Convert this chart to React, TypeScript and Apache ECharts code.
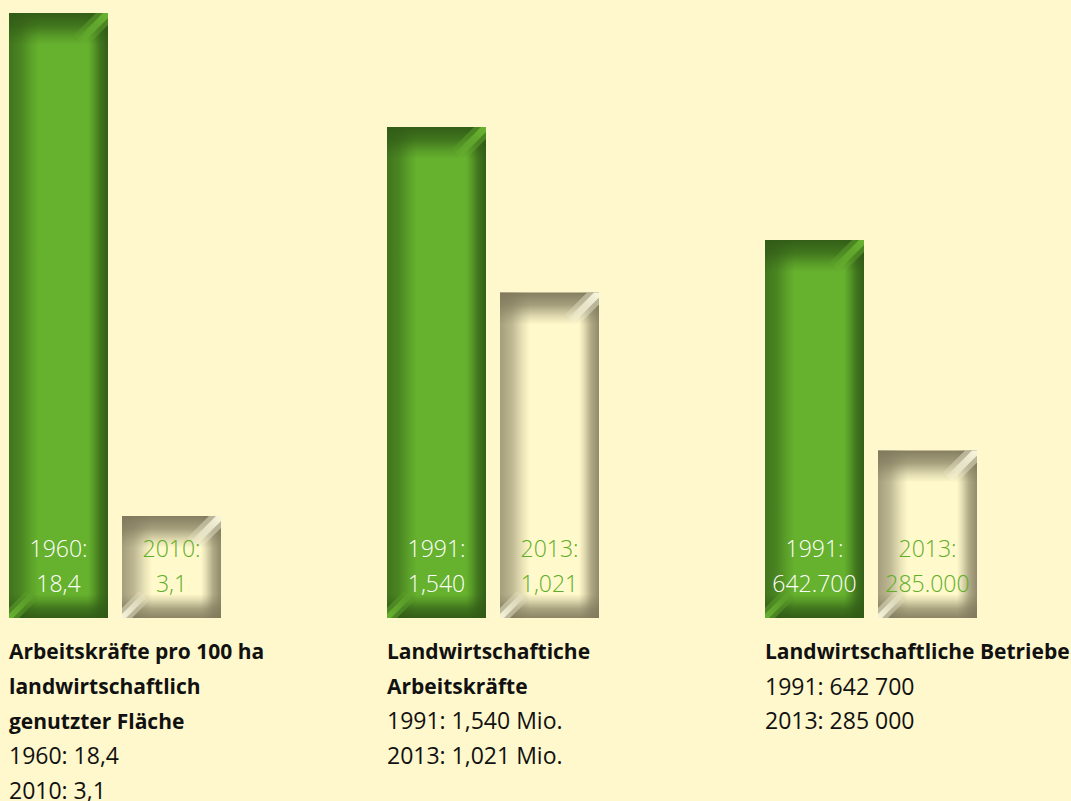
import React, { useEffect, useRef } from "react";
import * as echarts from "echarts";

// ---- Data ----
const group1Years = ["1960", "2010"];
const group1Values = [18.4, 3.1];
const group1Labels = ["18,4", "3,1"];

const group2Years = ["1991", "2013"];
const group2Values = [1.54, 1.021];
const group2Labels = ["1,540", "1,021"];

const group3Years = ["1991", "2013"];
const group3Values = [642700, 285000];
const group3Labels = ["642.700", "285.000"];

const group1Title = ["Arbeitskräfte pro 100 ha", "landwirtschaftlich", "genutzter Fläche"];
const group1Details = ["1960: 18,4", "2010: 3,1"];
const group2Title = ["Landwirtschaftiche", "Arbeitskräfte"];
const group2Details = ["1991: 1,540 Mio.", "2013: 1,021 Mio."];
const group3Title = ["Landwirtschaftliche Betriebe"];
const group3Details = ["1991: 642 700", "2013: 285 000"];

const groups = [
  { years: group1Years, values: group1Values, labels: group1Labels, title: group1Title, details: group1Details },
  { years: group2Years, values: group2Values, labels: group2Labels, title: group2Title, details: group2Details },
  { years: group3Years, values: group3Values, labels: group3Labels, title: group3Title, details: group3Details },
];

// ---- Layout / style ----
const W = 1071;
const H = 801;
const BG = "#FFF8CC";
const GRID_LEFTS = [2, 380, 758];
const GRID_TOPS = [13, 127, 240];
const GRID_WIDTH = 226;
const BASE_Y = 618;
const BAR_RATIO = 99 / 113;
const FONT = "'Open Sans', 'Noto Sans', sans-serif";

const GREEN = {
  center: "#66B22E",
  dark: "48,90,22",
  top: 0.95,
  left: 0.7,
  right: 0.95,
  bottom: 0.95,
  glow: "108,184,50",
  text: "#FFFFFF",
};
const CREAM = {
  center: "#FFF9CB",
  dark: "126,119,90",
  top: 0.95,
  left: 0.7,
  right: 0.85,
  bottom: 0.9,
  glow: "255,253,228",
  text: "#5EAE28",
};

function fade(x: number, y: number, x2: number, y2: number, rgb: string, a: number) {
  return new echarts.graphic.LinearGradient(x, y, x2, y2, [
    { offset: 0, color: `rgba(${rgb},${a})` },
    { offset: 0.4, color: `rgba(${rgb},${a * 0.72})` },
    { offset: 0.75, color: `rgba(${rgb},${a * 0.25})` },
    { offset: 1, color: `rgba(${rgb},0)` },
  ]);
}

function glowFill(x: number, y: number, x2: number, y2: number, rgb: string, a: number) {
  return new echarts.graphic.LinearGradient(x, y, x2, y2, [
    { offset: 0, color: `rgba(${rgb},${a})` },
    { offset: 0.55, color: `rgba(${rgb},${a * 0.6})` },
    { offset: 1, color: `rgba(${rgb},0)` },
  ]);
}

function makeRenderItem(groupIdx: number) {
  const g = groups[groupIdx];
  return (params: any, api: any) => {
    const xi = api.value(0);
    const v = api.value(1);
    const topPt = api.coord([xi, v]);
    const basePt = api.coord([xi, 0]);
    const w = api.size([1, 0])[0] * BAR_RATIO;
    const cx = topPt[0];
    const x0 = cx - w / 2;
    const x1 = cx + w / 2;
    const y0 = topPt[1];
    const y1 = basePt[1];
    const hgt = y1 - y0;
    const pal = params.dataIndex === 0 ? GREEN : CREAM;
    const T = Math.min(32, hgt / 2.6);
    const B = Math.min(24, hgt / 3.2);
    const L = 30;
    const R = 20;
    const children: any[] = [
      { type: "rect", shape: { x: x0, y: y0, width: w, height: hgt }, style: { fill: pal.center } },
      { type: "rect", shape: { x: x0, y: y0, width: L, height: hgt }, style: { fill: fade(0, 0, 1, 0, pal.dark, pal.left) } },
      { type: "rect", shape: { x: x1 - R, y: y0, width: R, height: hgt }, style: { fill: fade(1, 0, 0, 0, pal.dark, pal.right) } },
      { type: "rect", shape: { x: x0, y: y0, width: w, height: T }, style: { fill: fade(0, 0, 0, 1, pal.dark, pal.top) } },
      { type: "rect", shape: { x: x0, y: y1 - B, width: w, height: B }, style: { fill: fade(0, 1, 0, 0, pal.dark, pal.bottom) } },
      // top-right highlight (wide soft + narrow)
      {
        type: "polygon",
        shape: { points: [[x1 - 12, y0], [x1, y0], [x1, y0 + 12], [x1 - 22, y0 + 34], [x1 - 34, y0 + 22]] },
        style: { fill: glowFill(1, 0, 0, 1, pal.glow, 0.5) },
      },
      {
        type: "polygon",
        shape: { points: [[x1 - 5, y0], [x1, y0], [x1, y0 + 5], [x1 - 26, y0 + 31], [x1 - 31, y0 + 26]] },
        style: { fill: glowFill(1, 0, 0, 1, pal.glow, 0.9) },
      },
      // bottom-left highlight
      {
        type: "polygon",
        shape: { points: [[x0, y1 - 10], [x0, y1], [x0 + 10, y1], [x0 + 27, y1 - 17], [x0 + 17, y1 - 27]] },
        style: { fill: glowFill(0, 1, 1, 0, pal.glow, 0.5) },
      },
      {
        type: "polygon",
        shape: { points: [[x0, y1 - 4], [x0, y1], [x0 + 4, y1], [x0 + 25, y1 - 21], [x0 + 21, y1 - 25]] },
        style: { fill: glowFill(0, 1, 1, 0, pal.glow, 0.85) },
      },
      {
        type: "text",
        style: {
          text: g.years[params.dataIndex] + ":",
          x: cx,
          y: y1 - 70,
          align: "center",
          verticalAlign: "middle",
          fontSize: 23,
          fontFamily: FONT,
          fontWeight: 300,
          fill: pal.text,
        },
      },
      {
        type: "text",
        style: {
          text: g.labels[params.dataIndex],
          x: cx,
          y: y1 - 35,
          align: "center",
          verticalAlign: "middle",
          fontSize: 23,
          fontFamily: FONT,
          fontWeight: 300,
          fill: pal.text,
        },
      },
    ];
    return { type: "group", children };
  };
}

function buildOption() {
  const grid = groups.map((_, i) => ({
    left: GRID_LEFTS[i],
    top: GRID_TOPS[i],
    width: GRID_WIDTH,
    height: BASE_Y - GRID_TOPS[i],
  }));
  const xAxis = groups.map((g, i) => ({
    type: "category",
    gridIndex: i,
    data: g.years,
    show: false,
  }));
  const yAxis = groups.map((g, i) => ({
    type: "value",
    gridIndex: i,
    min: 0,
    max: g.values[0],
    show: false,
  }));
  const series = groups.map((g, i) => ({
    type: "custom",
    xAxisIndex: i,
    yAxisIndex: i,
    data: g.values.map((v, j) => [j, v]),
    encode: { x: 0, y: 1 },
    renderItem: makeRenderItem(i),
  }));
  const captionElements: any[] = [];
  const captionX = [9, 387, 765];
  groups.forEach((g, i) => {
    const lines = [
      ...g.title.map((t) => ({ t, bold: true })),
      ...g.details.map((t) => ({ t, bold: false })),
    ];
    lines.forEach((ln, k) => {
      const fs = ln.bold ? 21 : 23;
      const baseline = 659 + k * 34.8;
      captionElements.push({
        type: "text",
        x: captionX[i],
        y: baseline - 0.36 * fs,
        style: {
          text: ln.t,
          fontSize: fs,
          fontFamily: FONT,
          fontWeight: ln.bold ? "bold" : 400,
          fill: "#111111",
          align: "left",
          verticalAlign: "middle",
        },
      });
    });
  });
  return {
    animation: false,
    backgroundColor: BG,
    grid,
    xAxis,
    yAxis,
    series,
    graphic: captionElements,
  };
}

export default function App() {
  const ref = useRef<HTMLDivElement>(null);
  useEffect(() => {
    if (!ref.current) return;
    const chart = echarts.init(ref.current, null, { renderer: "svg" });
    chart.setOption(buildOption() as any);
    return () => chart.dispose();
  }, []);
  return (
    <div
      ref={ref}
      style={{ position: "absolute", left: 0, top: 0, width: W, height: H, background: BG }}
    />
  );
}
